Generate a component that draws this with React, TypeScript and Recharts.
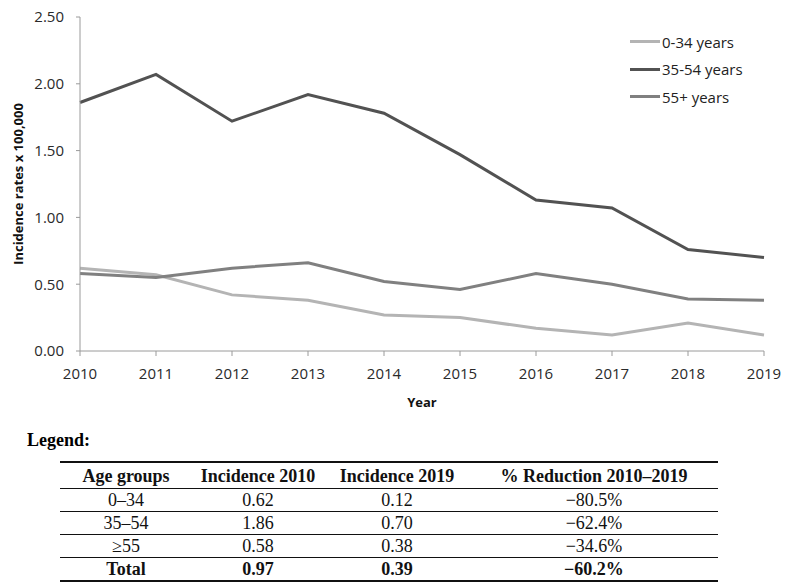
import React from 'react';
import { LineChart, Line, XAxis, YAxis } from 'recharts';

// Incidence rates x 100,000 by age group, 2010-2019
const years = [2010, 2011, 2012, 2013, 2014, 2015, 2016, 2017, 2018, 2019];
const young = [0.62, 0.57, 0.42, 0.38, 0.27, 0.25, 0.17, 0.12, 0.21, 0.12];
const middle = [1.86, 2.07, 1.72, 1.92, 1.78, 1.47, 1.13, 1.07, 0.76, 0.70];
const older = [0.58, 0.55, 0.62, 0.66, 0.52, 0.46, 0.58, 0.50, 0.39, 0.38];
const yTicks = [0, 0.5, 1, 1.5, 2, 2.5];

const series = [
  { key: 'young', name: '0-34 years', color: '#b4b4b4' },
  { key: 'middle', name: '35-54 years', color: '#525252' },
  { key: 'older', name: '55+ years', color: '#808080' },
];

const tableHead = ['Age groups', 'Incidence 2010', 'Incidence 2019', '% Reduction 2010\u20132019'];
const tableRows = [
  ['0\u201334', '0.62', '0.12', '\u221280.5%'],
  ['35\u201354', '1.86', '0.70', '\u221262.4%'],
  ['\u226555', '0.58', '0.38', '\u221234.6%'],
];
const tableTotal = ['Total', '0.97', '0.39', '\u221260.2%'];
const colWidths = [132, 132, 146, 248];

const data = years.map((year, i) => ({
  year,
  young: young[i],
  middle: middle[i],
  older: older[i],
}));

const sans = '"Open Sans", sans-serif';
const serif = '"Liberation Serif", serif';
const axisColor = '#9a9a9a';

function LegendBox() {
  return (
    <div style={{ position: 'absolute', left: 630, top: 28, fontFamily: sans, fontSize: 15, color: '#222' }}>
      {series.map((s) => (
        <div key={s.key} style={{ display: 'flex', alignItems: 'center', height: 27.5 }}>
          <span style={{ width: 30, height: 3, background: s.color, display: 'inline-block', marginRight: 2 }} />
          <span>{s.name}</span>
        </div>
      ))}
    </div>
  );
}

export default function App() {
  const cell = (i: number, bold: boolean, border: string, h: number): React.CSSProperties => ({
    width: colWidths[i],
    textAlign: 'center',
    padding: 0,
    height: h,
    lineHeight: 1,
    fontWeight: bold ? 700 : 400,
    borderBottom: border,
  });

  return (
    <div style={{ position: 'absolute', left: 0, top: 0, width: 789, height: 584, background: '#fff' }}>
      <LineChart width={789} height={420} data={data} margin={{ top: 17, right: 25, left: 0, bottom: 13 }}>
        <XAxis
          dataKey="year"
          type="number"
          domain={[2010, 2019]}
          ticks={years}
          height={56}
          stroke={axisColor}
          tickSize={5}
          tick={{ fill: '#2a2a2a', fontSize: 15, fontFamily: sans }}
          tickMargin={12}
          label={{ value: 'Year', position: 'insideBottom', offset: 0, fill: '#111', fontSize: 13, fontWeight: 700, fontFamily: sans }}
        />
        <YAxis
          domain={[0, 2.5]}
          ticks={yTicks}
          width={80}
          stroke={axisColor}
          tickSize={4}
          tickMargin={12}
          tickFormatter={(v: number) => v.toFixed(2)}
          tick={{ fill: '#2a2a2a', fontSize: 15, fontFamily: sans }}
          label={{ value: 'Incidence rates x 100,000', angle: -90, position: 'insideLeft', offset: 18, fill: '#111', fontSize: 13, fontWeight: 700, fontFamily: sans, style: { textAnchor: 'middle' } }}
        />
        {series.map((s) => (
          <Line
            key={s.key}
            dataKey={s.key}
            name={s.name}
            stroke={s.color}
            strokeWidth={3}
            dot={false}
            activeDot={false}
            type="linear"
            isAnimationActive={false}
          />
        ))}
      </LineChart>
      <LegendBox />

      <div style={{ position: 'absolute', left: 27, top: 430, fontFamily: serif, fontSize: 18, fontWeight: 700 }}>Legend:</div>
      <table
        style={{
          position: 'absolute',
          left: 60,
          top: 461,
          width: 658,
          borderCollapse: 'collapse',
          fontFamily: serif,
          fontSize: 18,
          color: '#111',
          borderTop: '2px solid #111',
          borderBottom: '2px solid #111',
        }}
      >
        <tbody>
          <tr>
            {tableHead.map((h, i) => (
              <td key={i} style={cell(i, true, '1px solid #111', 25)}>{h}</td>
            ))}
          </tr>
          {tableRows.map((r, ri) => (
            <tr key={ri}>
              {r.map((v, i) => (
                <td key={i} style={cell(i, false, '1px solid #111', 22)}>{v}</td>
              ))}
            </tr>
          ))}
          <tr>
            {tableTotal.map((v, i) => (
              <td key={i} style={cell(i, true, 'none', 22)}>{v}</td>
            ))}
          </tr>
        </tbody>
      </table>
    </div>
  );
}
